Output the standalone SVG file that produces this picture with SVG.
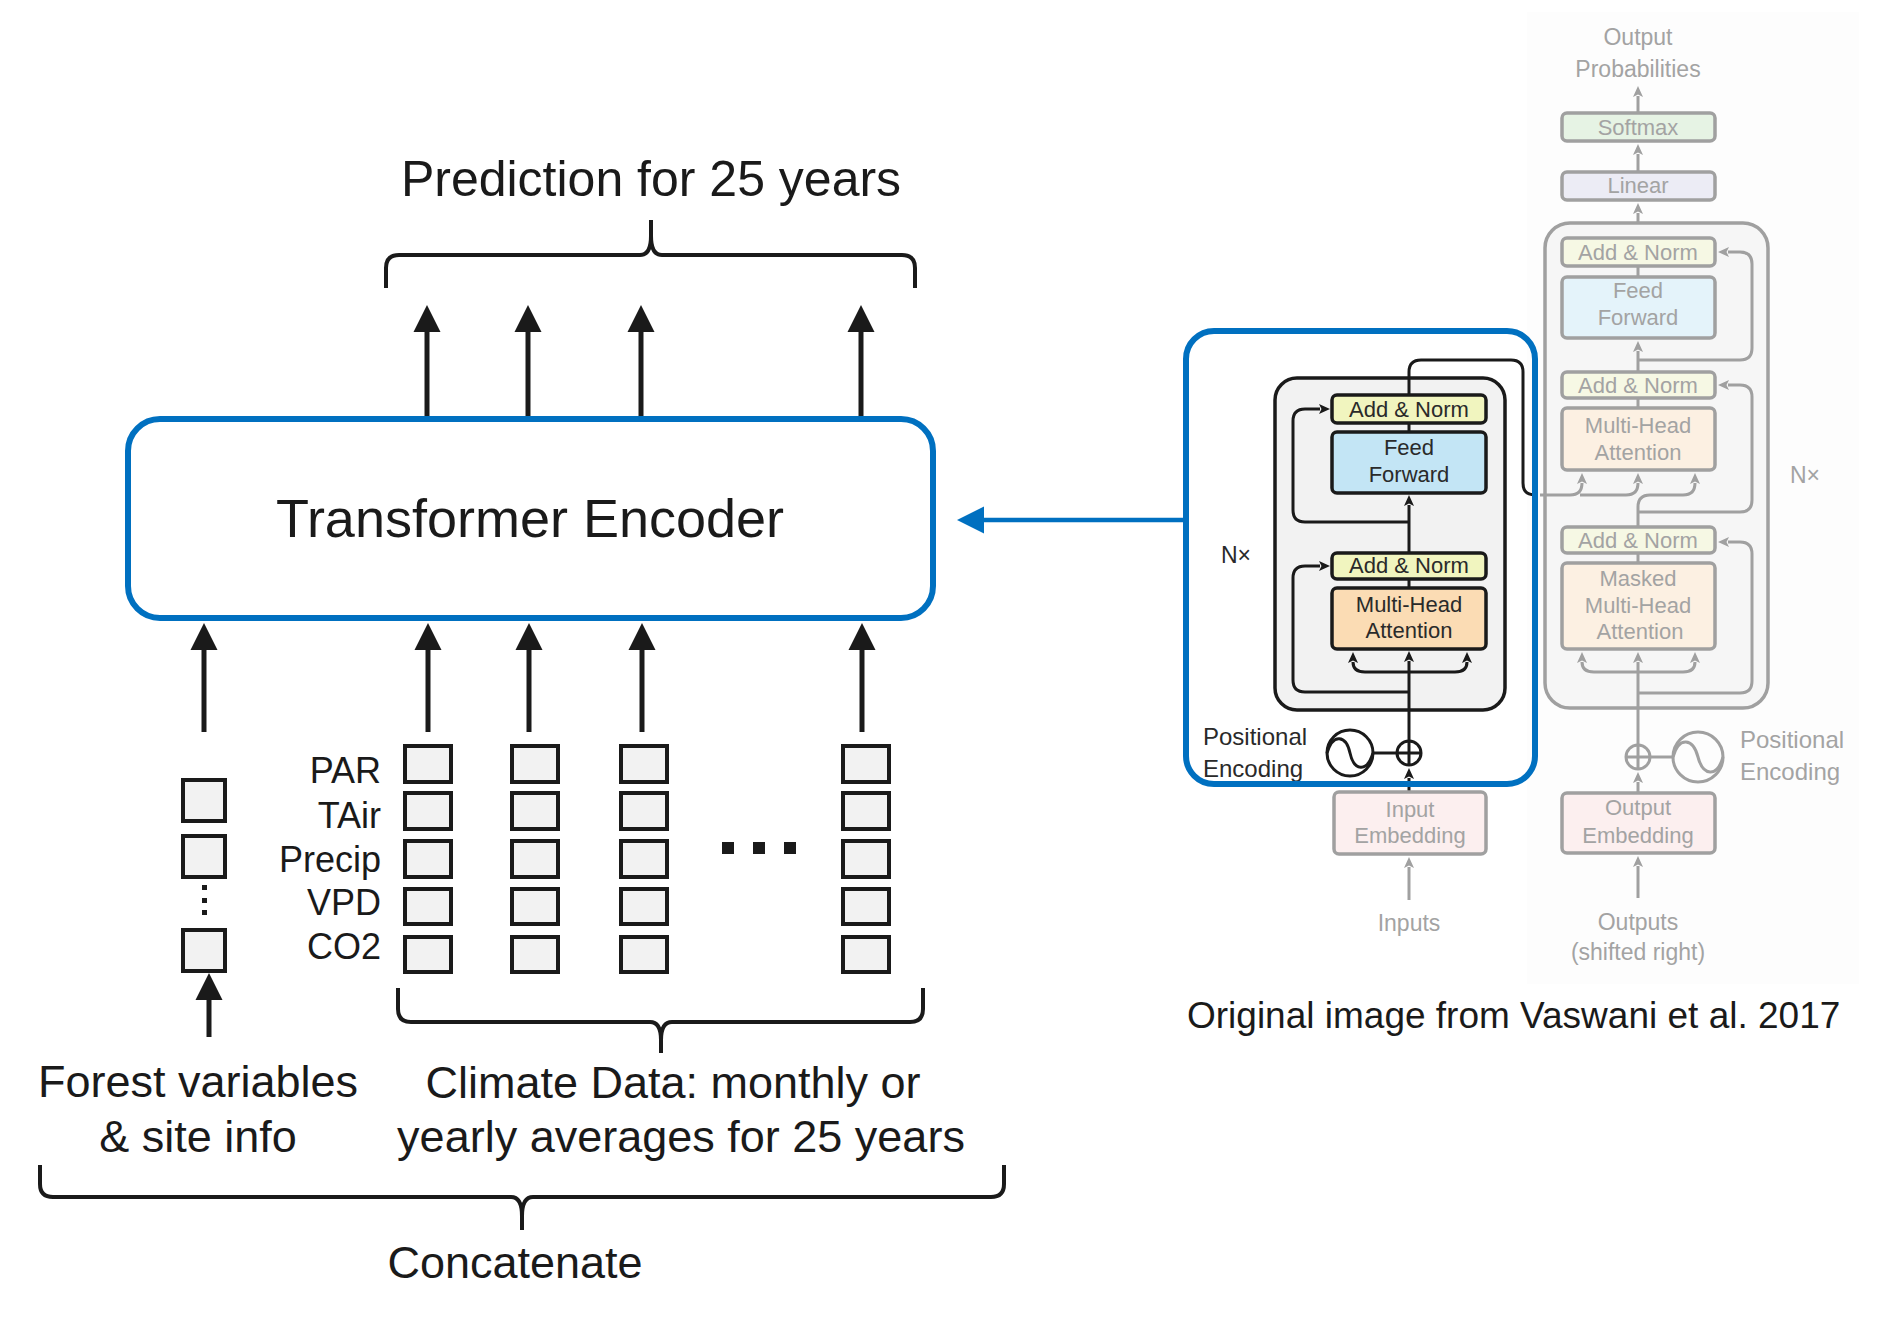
<svg xmlns="http://www.w3.org/2000/svg" width="1882" height="1317" viewBox="0 0 1882 1317">
<defs>
<style>
.t{font-family:"Liberation Sans",Arial,sans-serif;fill:#1a1a1a}
.big{font-size:45px}
.lbl{font-size:36px;text-anchor:end}
.cell{fill:#f2f2f2;stroke:#1a1a1a;stroke-width:4}
.ln{fill:none;stroke:#1a1a1a;stroke-width:5}
.brace{fill:none;stroke:#1a1a1a;stroke-width:4;stroke-linejoin:round}
.et{font-family:"Liberation Sans",Arial,sans-serif;font-size:22px;fill:#2a2a2a;text-anchor:middle}
.dt{font-family:"Liberation Sans",Arial,sans-serif;font-size:22px;fill:#a3a3a3;text-anchor:middle}
.st{text-anchor:start}
.f23{font-size:23px}
.f24{font-size:24px}
.f22{font-size:22px}
.eb{stroke:#1a1a1a;stroke-width:3.5}
.db{stroke:#a0a0a0;stroke-width:3.5}
.el{fill:none;stroke:#1a1a1a;stroke-width:3}
.dl{fill:none;stroke:#a0a0a0;stroke-width:3}
</style>
<marker id="ah" markerUnits="userSpaceOnUse" markerWidth="28" markerHeight="28" viewBox="0 0 28 28" refX="1" refY="14" orient="auto"><path d="M0,0.5 L27,14 L0,27.5 z" fill="#1a1a1a"/></marker>
<marker id="ahb" markerUnits="userSpaceOnUse" markerWidth="28" markerHeight="28" viewBox="0 0 28 28" refX="1" refY="14" orient="auto"><path d="M0,0.5 L27,14 L0,27.5 z" fill="#0070C0"/></marker>
<marker id="sa" markerUnits="userSpaceOnUse" markerWidth="12" markerHeight="12" viewBox="0 0 12 12" refX="1" refY="6" orient="auto"><path d="M0,1 L11,6 L0,11 L2.5,6 z" fill="#1a1a1a"/></marker>
<marker id="ga" markerUnits="userSpaceOnUse" markerWidth="12" markerHeight="12" viewBox="0 0 12 12" refX="1" refY="6" orient="auto"><path d="M0,1 L11,6 L0,11 L2.5,6 z" fill="#a0a0a0"/></marker>
</defs>
<rect width="1882" height="1317" fill="#ffffff"/>

<!-- background of original paper figure -->
<rect id="paper-bg" x="1527" y="12" width="332" height="972" fill="#fdfdfd"/>

<!-- Left part -->
<g id="prediction-label">
<text class="t" x="651" y="196" font-size="50" text-anchor="middle">Prediction for 25 years</text>
<path class="brace" d="M386,288 V268 Q386,255 399,255 H640 Q651,255 651,236 V220 M651,236 Q651,255 662,255 H902 Q915,255 915,268 V288"/>
</g>

<g id="transformer-encoder">
<rect x="128" y="419" width="805" height="199" rx="32" fill="#ffffff" stroke="#0070C0" stroke-width="6"/>
<text class="t" x="530" y="537" font-size="54" text-anchor="middle">Transformer Encoder</text>
</g>

<g id="forest-input">
<rect class="cell" x="183" y="780" width="42" height="41"/>
<rect class="cell" x="183" y="836" width="42" height="41"/>
<rect x="202" y="885" width="5" height="5" fill="#1a1a1a"/>
<rect x="202" y="898" width="5" height="5" fill="#1a1a1a"/>
<rect x="202" y="910" width="5" height="5" fill="#1a1a1a"/>
<rect class="cell" x="183" y="930" width="42" height="41"/>
<text class="t big" x="198" y="1097" text-anchor="middle">Forest variables</text>
<text class="t big" x="198" y="1152" text-anchor="middle">&amp; site info</text>
</g>

<g id="climate-labels">
<text class="t lbl" x="381" y="783">PAR</text>
<text class="t lbl" x="381" y="828">TAir</text>
<text class="t lbl" x="381" y="872">Precip</text>
<text class="t lbl" x="381" y="915">VPD</text>
<text class="t lbl" x="381" y="959">CO2</text>
</g>

<g id="climate-col-1">
<rect class="cell" x="405" y="746" width="46" height="36"/>
<rect class="cell" x="405" y="793" width="46" height="36"/>
<rect class="cell" x="405" y="841" width="46" height="36"/>
<rect class="cell" x="405" y="889" width="46" height="35"/>
<rect class="cell" x="405" y="937" width="46" height="35"/>
</g>
<g id="climate-col-2">
<rect class="cell" x="512" y="746" width="46" height="36"/>
<rect class="cell" x="512" y="793" width="46" height="36"/>
<rect class="cell" x="512" y="841" width="46" height="36"/>
<rect class="cell" x="512" y="889" width="46" height="35"/>
<rect class="cell" x="512" y="937" width="46" height="35"/>
</g>
<g id="climate-col-3">
<rect class="cell" x="621" y="746" width="46" height="36"/>
<rect class="cell" x="621" y="793" width="46" height="36"/>
<rect class="cell" x="621" y="841" width="46" height="36"/>
<rect class="cell" x="621" y="889" width="46" height="35"/>
<rect class="cell" x="621" y="937" width="46" height="35"/>
</g>
<g id="ellipsis">
<rect x="722" y="842" width="12" height="12" fill="#1a1a1a"/>
<rect x="753" y="842" width="12" height="12" fill="#1a1a1a"/>
<rect x="784" y="842" width="12" height="12" fill="#1a1a1a"/>
</g>
<g id="climate-col-n">
<rect class="cell" x="843" y="746" width="46" height="36"/>
<rect class="cell" x="843" y="793" width="46" height="36"/>
<rect class="cell" x="843" y="841" width="46" height="36"/>
<rect class="cell" x="843" y="889" width="46" height="35"/>
<rect class="cell" x="843" y="937" width="46" height="35"/>
</g>

<g id="climate-label">
<path class="brace" d="M398,988 V1009 Q398,1022 411,1022 H650 Q661,1022 661,1040 V1053 M661,1040 Q661,1022 672,1022 H910 Q923,1022 923,1009 V988"/>
<text class="t big" x="673" y="1098" text-anchor="middle">Climate Data: monthly or</text>
<text class="t big" x="681" y="1152" text-anchor="middle">yearly averages for 25 years</text>
</g>

<g id="concatenate-label">
<path class="brace" d="M40,1165 V1184 Q40,1197 53,1197 H511 Q522,1197 522,1216 V1230 M522,1216 Q522,1197 533,1197 H991 Q1004,1197 1004,1184 V1165"/>
<text class="t big" x="515" y="1278" text-anchor="middle">Concatenate</text>
</g>

<g id="connectors">
<path class="ln" d="M427,416 V331" marker-end="url(#ah)"/>
<path class="ln" d="M528,416 V331" marker-end="url(#ah)"/>
<path class="ln" d="M641,416 V331" marker-end="url(#ah)"/>
<path class="ln" d="M861,416 V331" marker-end="url(#ah)"/>
<path class="ln" d="M204,732 V649" marker-end="url(#ah)"/>
<path class="ln" d="M428,732 V649" marker-end="url(#ah)"/>
<path class="ln" d="M529,732 V649" marker-end="url(#ah)"/>
<path class="ln" d="M642,732 V649" marker-end="url(#ah)"/>
<path class="ln" d="M862,732 V649" marker-end="url(#ah)"/>
<path class="ln" d="M209,1037 V999" marker-end="url(#ah)"/>
<path d="M1186,520 H983" fill="none" stroke="#0070C0" stroke-width="4.5" marker-end="url(#ahb)"/>
</g>

<!-- Right part: Vaswani figure -->
<g id="encoder-detail">
<rect x="1275" y="378" width="230" height="332" rx="22" fill="#f2f2f2" stroke="#1a1a1a" stroke-width="3.5"/>
<path class="el" d="M1409,792 V778" marker-end="url(#sa)"/>
<path class="el" d="M1409,741 V661" marker-end="url(#sa)"/>
<path class="el" d="M1409,672 H1365 Q1353,672 1353,662" marker-end="url(#sa)"/>
<path class="el" d="M1409,672 H1455 Q1467,672 1467,662" marker-end="url(#sa)"/>
<path class="el" d="M1409,692 H1305 Q1293,692 1293,680 V578 Q1293,566 1305,566 H1320" marker-end="url(#sa)"/>
<path class="el" d="M1409,588 V579"/>
<path class="el" d="M1409,553 V505" marker-end="url(#sa)"/>
<path class="el" d="M1409,522 H1305 Q1293,522 1293,510 V421 Q1293,409 1305,409 H1320" marker-end="url(#sa)"/>
<path class="el" d="M1409,432 V423"/>
<path class="el" d="M1409,395 V372 Q1409,360 1421,360 H1511 Q1523,360 1523,372 V483 Q1523,495 1535,495 H1538"/>
<rect x="1332" y="395" width="154" height="28" rx="5" fill="#f1f5bf" class="eb"/>
<text class="et" x="1409" y="417">Add &amp; Norm</text>
<rect x="1332" y="432" width="154" height="61" rx="5" fill="#c3e5f5" class="eb"/>
<text class="et" x="1409" y="455">Feed</text>
<text class="et" x="1409" y="482">Forward</text>
<rect x="1332" y="553" width="154" height="26" rx="5" fill="#f1f5bf" class="eb"/>
<text class="et" x="1409" y="573">Add &amp; Norm</text>
<rect x="1332" y="588" width="154" height="61" rx="5" fill="#fbdcb4" class="eb"/>
<text class="et" x="1409" y="612">Multi-Head</text>
<text class="et" x="1409" y="638">Attention</text>
<text class="et st f23" x="1221" y="563">N×</text>
<circle cx="1350" cy="753" r="23" fill="none" stroke="#1a1a1a" stroke-width="3"/>
<path class="el" d="M1327,753 C1333,733 1346,735 1350,753 C1354,771 1367,773 1373,753"/>
<path class="el" d="M1373,753 H1397"/>
<circle cx="1409" cy="753" r="12" fill="none" stroke="#1a1a1a" stroke-width="3"/>
<path class="el" d="M1397,753 H1421 M1409,741 V765"/>
<text class="et st f24" x="1203" y="745">Positional</text>
<text class="et st f24" x="1203" y="777">Encoding</text>
</g>

<g id="input-embedding">
<path class="dl" d="M1409,900 V867" marker-end="url(#ga)"/>
<rect x="1334" y="792" width="152" height="62" rx="5" fill="#fcefef" class="db"/>
<text class="dt" x="1410" y="817">Input</text>
<text class="dt" x="1410" y="843">Embedding</text>
<text class="dt f23" x="1409" y="931">Inputs</text>
</g>

<g id="decoder-detail">
<text class="dt f23" x="1638" y="45">Output</text>
<text class="dt f23" x="1638" y="77">Probabilities</text>
<path class="dl" d="M1638,113 V96" marker-end="url(#ga)"/>
<rect x="1562" y="113" width="153" height="28" rx="5" fill="#e6f3e4" class="db"/>
<text class="dt" x="1638" y="135">Softmax</text>
<path class="dl" d="M1638,172 V154" marker-end="url(#ga)"/>
<rect x="1562" y="172" width="153" height="28" rx="5" fill="#ececf5" class="db"/>
<text class="dt" x="1638" y="193">Linear</text>
<path class="dl" d="M1638,238 V213" marker-end="url(#ga)"/>
<rect x="1545" y="223" width="223" height="485" rx="25" fill="#f6f6f6" class="db"/>
<path class="dl" d="M1638,266 V277"/>
<path class="dl" d="M1638,372 V351" marker-end="url(#ga)"/>
<path class="dl" d="M1638,360 H1740 Q1752,360 1752,348 V264 Q1752,252 1740,252 H1728" marker-end="url(#ga)"/>
<path class="dl" d="M1638,398 V408"/>
<path class="dl" d="M1540,495 H1570 Q1582,495 1582,483" marker-end="url(#ga)"/>
<path class="dl" d="M1580,495 H1626 Q1638,495 1638,483" marker-end="url(#ga)"/>
<path class="dl" d="M1638,527 V507 Q1638,495 1650,495 H1683 Q1695,495 1695,483" marker-end="url(#ga)"/>
<path class="dl" d="M1638,512 H1740 Q1752,512 1752,500 V397 Q1752,385 1740,385 H1728" marker-end="url(#ga)"/>
<path class="dl" d="M1638,553 V563"/>
<path class="dl" d="M1638,745 V662" marker-end="url(#ga)"/>
<path class="dl" d="M1638,672 H1594 Q1582,672 1582,662" marker-end="url(#ga)"/>
<path class="dl" d="M1638,672 H1683 Q1695,672 1695,662" marker-end="url(#ga)"/>
<path class="dl" d="M1638,693 H1740 Q1752,693 1752,681 V554 Q1752,542 1740,542 H1728" marker-end="url(#ga)"/>
<rect x="1562" y="238" width="153" height="28" rx="5" fill="#f6f8e4" class="db"/>
<text class="dt" x="1638" y="260">Add &amp; Norm</text>
<rect x="1562" y="277" width="153" height="61" rx="5" fill="#e4f3fa" class="db"/>
<text class="dt" x="1638" y="298">Feed</text>
<text class="dt" x="1638" y="325">Forward</text>
<rect x="1562" y="372" width="153" height="26" rx="5" fill="#f6f8e4" class="db"/>
<text class="dt" x="1638" y="393">Add &amp; Norm</text>
<rect x="1562" y="408" width="153" height="62" rx="5" fill="#fcf0e2" class="db"/>
<text class="dt" x="1638" y="433">Multi-Head</text>
<text class="dt" x="1638" y="460">Attention</text>
<rect x="1562" y="527" width="153" height="26" rx="5" fill="#f6f8e4" class="db"/>
<text class="dt" x="1638" y="548">Add &amp; Norm</text>
<rect x="1562" y="563" width="153" height="86" rx="5" fill="#fcf0e2" class="db"/>
<text class="dt" x="1638" y="586">Masked</text>
<text class="dt" x="1638" y="613">Multi-Head</text>
<text class="dt" x="1640" y="639">Attention</text>
<text class="dt st f23" x="1790" y="483">N×</text>
<circle cx="1638" cy="757" r="12" fill="none" stroke="#a0a0a0" stroke-width="3"/>
<path class="dl" d="M1626,757 H1650 M1638,745 V769"/>
<path class="dl" d="M1650,757 H1673"/>
<circle cx="1698" cy="757" r="25" fill="none" stroke="#a0a0a0" stroke-width="3"/>
<path class="dl" d="M1673,757 C1679,736 1693,738 1698,757 C1703,776 1717,778 1723,757"/>
<text class="dt st f24" x="1740" y="748">Positional</text>
<text class="dt st f24" x="1740" y="780">Encoding</text>
<path class="dl" d="M1638,793 V782" marker-end="url(#ga)"/>
<rect x="1562" y="793" width="153" height="60" rx="5" fill="#fcefef" class="db"/>
<text class="dt" x="1638" y="815">Output</text>
<text class="dt" x="1638" y="843">Embedding</text>
<path class="dl" d="M1638,898 V866" marker-end="url(#ga)"/>
<text class="dt f23" x="1638" y="930">Outputs</text>
<text class="dt f23" x="1638" y="960">(shifted right)</text>
</g>

<g id="encoder-highlight">
<rect x="1186" y="331" width="349" height="453" rx="28" fill="none" stroke="#0070C0" stroke-width="6"/>
</g>

<text id="caption" class="t" x="1187" y="1028" font-size="37">Original image from Vaswani et al. 2017</text>
</svg>
